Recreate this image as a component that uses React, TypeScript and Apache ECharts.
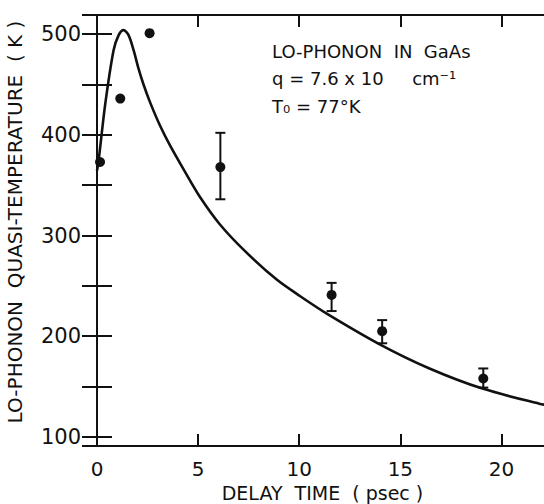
import React, { useEffect, useRef } from "react";
import * as echarts from "echarts";

// measured data points (delay time psec, temperature K)
const pointX = [0.15, 1.15, 2.6, 6.1, 11.6, 14.1, 19.1];
const pointY = [373, 436, 501, 368, 241, 205, 158];

// error bars: x, low, high
const errX = [6.1, 11.6, 14.1, 19.1];
const errLow = [336, 225, 193, 149];
const errHigh = [402, 253, 216, 168];

// theoretical curve
const curveX = [0, 0.08, 0.41, 0.82, 1.07, 1.31, 1.56, 1.81, 2.05, 2.3, 2.63, 3.12, 3.61, 4.36, 5.1, 6.08, 7.32, 8.9, 10.03, 11.36, 13.98, 16.44, 19.06, 21.87, 22.3];
const curveY = [364.5, 374.5, 431, 484, 499, 504, 499, 484, 466, 450, 432, 409, 389.5, 363, 338, 311, 284.5, 256, 240, 222.5, 192, 168, 148, 133, 131.5];

const xTicks = [0, 5, 10, 15, 20];
const yTicks = [100, 200, 300, 400, 500];

const FONT = "DejaVu Sans";
const INK = "#111";

export default function App() {
  const ref = useRef<HTMLDivElement>(null);
  useEffect(() => {
    if (!ref.current) return;
    const chart = echarts.init(ref.current, undefined, { renderer: "svg" });
    const axisCommon = {
      axisLine: { show: true, lineStyle: { color: INK, width: 2 } },
      splitLine: { show: false },
    };
    const yBase = {
      type: "value" as const,
      min: 91,
      max: 519,
      minInterval: 50,
      maxInterval: 50,
      ...axisCommon,
    };
    const xBase = {
      type: "value" as const,
      min: 0,
      max: 22.3,
      interval: 5,
      ...axisCommon,
    };
    chart.setOption({
      animation: false,
      backgroundColor: "#fff",
      grid: { left: 97, right: -4, top: 15, bottom: 58, containLabel: false, outerBoundsMode: "none" },
      xAxis: [
        {
          ...xBase,
          position: "bottom",
          name: "DELAY  TIME  ( psec )",
          nameLocation: "middle",
          nameGap: 29,
          nameTextStyle: { fontFamily: FONT, fontSize: 19, color: INK },
          axisTick: { show: true, inside: true, length: 12, lineStyle: { color: INK, width: 2 } },
          axisLabel: {
            show: true,
            margin: 13,
            fontFamily: FONT,
            fontSize: 20,
            color: INK,
            formatter: (v: number) => (xTicks.includes(v) ? String(v) : ""),
          },
        },
        {
          ...xBase,
          position: "top",
          axisTick: { show: true, inside: true, length: 12, lineStyle: { color: INK, width: 2 } },
          axisLabel: { show: false },
        },
      ],
      yAxis: [
        {
          ...yBase,
          position: "left",
          axisTick: { show: true, inside: true, length: 15, lineStyle: { color: INK, width: 2 } },
          axisLabel: {
            show: true,
            margin: 16,
            fontFamily: FONT,
            fontSize: 21,
            color: INK,
            formatter: (v: number) => (yTicks.includes(v) ? String(v) : ""),
          },
        },
        {
          ...yBase,
          position: "right",
          axisTick: { show: true, inside: true, length: 15, lineStyle: { color: INK, width: 2 } },
          axisLabel: { show: false },
        },
      ],
      series: [
        {
          type: "line",
          data: curveX.map((x, i) => [x, curveY[i]]),
          smooth: 0.3,
          showSymbol: false,
          symbol: "none",
          lineStyle: { color: INK, width: 2.6 },
          z: 2,
        },
        {
          type: "custom",
          data: errX.map((x, i) => [x, errLow[i], errHigh[i]]),
          renderItem: (params: any, api: any) => {
            const x = api.value(0);
            const lo = api.coord([x, api.value(1)]);
            const hi = api.coord([x, api.value(2)]);
            const cap = 5;
            const style = { stroke: INK, lineWidth: 2 };
            return {
              type: "group",
              children: [
                { type: "line", shape: { x1: lo[0], y1: lo[1], x2: hi[0], y2: hi[1] }, style },
                { type: "line", shape: { x1: hi[0] - cap, y1: hi[1], x2: hi[0] + cap, y2: hi[1] }, style },
                { type: "line", shape: { x1: lo[0] - cap, y1: lo[1], x2: lo[0] + cap, y2: lo[1] }, style },
              ],
            };
          },
          z: 3,
        },
        {
          type: "scatter",
          data: pointX.map((x, i) => [x, pointY[i]]),
          symbol: "circle",
          symbolSize: 10,
          itemStyle: { color: INK, opacity: 1 },
          z: 4,
        },
      ],
      graphic: [
        {
          type: "text",
          x: 15,
          y: 222,
          rotation: Math.PI / 2,
          style: {
            text: "LO-PHONON  QUASI-TEMPERATURE  ( K )",
            fontFamily: FONT,
            fontSize: 20,
            fill: INK,
            align: "center",
            verticalAlign: "middle",
          },
        },
        {
          type: "text",
          left: 272,
          top: 42,
          style: { text: "LO-PHONON  IN  GaAs", fontFamily: FONT, fontSize: 18, fill: INK },
        },
        {
          type: "text",
          left: 272,
          top: 69,
          style: { text: "q = 7.6 x 10     cm⁻¹", fontFamily: FONT, fontSize: 18, fill: INK },
        },
        {
          type: "text",
          left: 272,
          top: 97,
          style: { text: "T₀ = 77°K", fontFamily: FONT, fontSize: 18, fill: INK },
        },
      ],
    });
    return () => chart.dispose();
  }, []);
  return (
    <div
      ref={ref}
      style={{ position: "fixed", left: 0, top: 0, width: 544, height: 504, background: "#fff" }}
    />
  );
}
